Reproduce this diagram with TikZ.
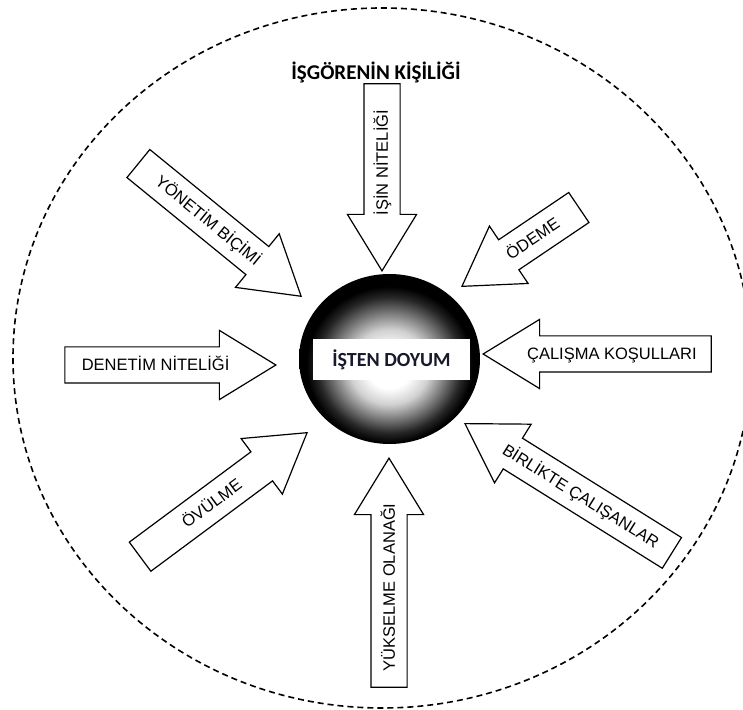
\documentclass[tikz,border=0pt]{standalone}
\usepackage{fontspec}
\setmainfont{Liberation Sans}
\newfontfamily\headfont{Carlito}
\usetikzlibrary{shapes.arrows}

\definecolor{labelink}{RGB}{25,25,45}
\pgfdeclareradialshading{ballglow}{\pgfpoint{0bp}{-3bp}}{%
  color(0bp)=(white); color(6bp)=(white); color(11bp)=(black!18);
  color(16bp)=(black!55); color(20bp)=(black!85); color(23bp)=(black);
  color(50bp)=(black)}

\begin{document}
\begin{tikzpicture}[x=1pt,y=1pt,
    factor/.style={single arrow, draw=black, line width=1.2pt, fill=white,
      font=\fontsize{16.5}{18}\selectfont, text height=11.5pt, text depth=0pt,
      inner xsep=3pt, inner ysep=11.75pt,
      single arrow head extend=16.5pt, single arrow tip angle=63, anchor=tip}]
  \useasboundingbox (0,0) rectangle (743,709);

  % Outer boundary
  \draw[line width=1.6pt, dash pattern=on 6pt off 4pt] (382,351) ellipse [x radius=369, y radius=350];

  % Title
  \node[font=\headfont\bfseries\fontsize{21}{24}\selectfont] (kisilik) at (376,637) {İŞGÖRENİN KİŞİLİĞİ};

  % Factors pointing at the centre
  \node[factor, minimum height=211pt] (denetim) at (277,344) {DENETİM NİTELİĞİ};
  \node[factor, minimum height=228pt, shape border rotate=180] (calisma) at (482,355) {ÇALIŞMA KOŞULLARI};
  \node[factor, minimum height=187pt, rotate=90, shape border rotate=180] (isin) at (382,437) {İŞİN NİTELİĞİ};
  \node[factor, minimum height=229pt, rotate=90] (yukselme) at (389,252) {YÜKSELME OLANAĞI};
  \node[factor, minimum height=141pt, rotate=34, shape border rotate=180] (odeme) at (461,422) {ÖDEME};
  \node[factor, minimum height=210pt, rotate=-39.2] (yonetim) at (302,412) {YÖNETİM BİÇİMİ};
  \node[factor, minimum height=208pt, rotate=36.6] (ovulme) at (308,277) {ÖVÜLME};
  \node[factor, minimum height=244pt, rotate=-32, shape border rotate=180] (birlikte) at (464,286) {BİRLİKTE ÇALIŞANLAR};

  % Central ball
  \shade[shading=ballglow] (389.5,350) ellipse [x radius=90.5, y radius=85];
  \node[fill=white, minimum width=157pt, minimum height=41pt, text=labelink,
    font=\headfont\bfseries\fontsize{20}{24}\selectfont] (doyum) at (391.5,349.5) {İŞTEN DOYUM};
\end{tikzpicture}
\end{document}
